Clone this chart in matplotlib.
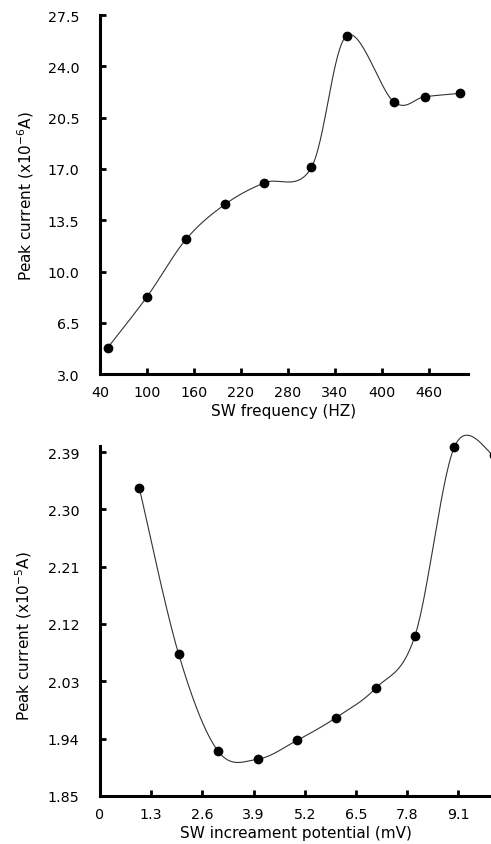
import numpy as np
import matplotlib
matplotlib.use("Agg")
import matplotlib.pyplot as plt

plt.rcParams['font.family'] = ['DejaVu Sans']
plt.rcParams['mathtext.fontset'] = 'dejavusans'

# top panel: peak current vs SW frequency
freq = [50, 100, 150, 200, 250, 310, 355, 415, 455, 500]
current_freq = [4.82, 8.28, 12.21, 14.6, 16.06, 17.1, 26.09, 21.59, 21.93, 22.16]
freq_ticks = [40, 100, 160, 220, 280, 340, 400, 460]
freq_yticks = [3.0, 6.5, 10.0, 13.5, 17.0, 20.5, 24.0, 27.5]

# bottom panel: peak current vs SW increment potential
incr = [1, 2, 3, 4, 5, 6, 7, 8, 9, 10]
current_incr = [2.333, 2.072, 1.920, 1.9075, 1.937, 1.973, 2.019, 2.1015, 2.398, 2.385]
incr_ticks = [0, 1.3, 2.6, 3.9, 5.2, 6.5, 7.8, 9.1]
incr_yticks = [1.85, 1.94, 2.03, 2.12, 2.21, 2.30, 2.39]


def smooth(x, y, n=30):
    # Excel-style smoothed line (Catmull-Rom as cubic bezier)
    x = np.asarray(x, float)
    y = np.asarray(y, float)
    px = np.concatenate([[x[0]], x, [x[-1]]])
    py = np.concatenate([[y[0]], y, [y[-1]]])
    xs, ys = [], []
    t = np.linspace(0, 1, n)
    for i in range(1, len(px) - 2):
        p0 = np.array([px[i], py[i]])
        p3 = np.array([px[i + 1], py[i + 1]])
        p1 = p0 + (np.array([px[i + 1], py[i + 1]]) - np.array([px[i - 1], py[i - 1]])) / 6
        p2 = p3 - (np.array([px[i + 2], py[i + 2]]) - np.array([px[i], py[i]])) / 6
        b = ((1 - t) ** 3)[:, None] * p0 + (3 * (1 - t) ** 2 * t)[:, None] * p1 \
            + (3 * (1 - t) * t ** 2)[:, None] * p2 + (t ** 3)[:, None] * p3
        xs.extend(b[:, 0])
        ys.extend(b[:, 1])
    return xs, ys


def style(ax):
    for s in ['top', 'right']:
        ax.spines[s].set_visible(False)
    for s in ['left', 'bottom']:
        ax.spines[s].set_linewidth(2.2)
    ax.tick_params(direction='in', length=4, width=2, labelsize=10.3)
    ax.tick_params(axis='y', pad=15)
    ax.tick_params(axis='x', pad=8)


fig = plt.figure(figsize=(4.91, 8.45), dpi=100)

ax1 = fig.add_axes([0.2037, 0.556, 0.953 - 0.2037, 0.981 - 0.556])
sx, sy = smooth(freq, current_freq)
ax1.plot(sx, sy, color='#333333', lw=0.8)
ax1.plot(freq, current_freq, 'o', color='black', ms=6)
ax1.set_xlim(40, 510)
ax1.set_ylim(3.0, 27.5)
ax1.set_xticks(freq_ticks)
ax1.set_yticks(freq_yticks)
ax1.set_yticklabels(['%.1f' % v for v in freq_yticks])
ax1.set_xlabel('SW frequency (HZ)', fontsize=11, labelpad=3)
ax1.set_ylabel('Peak current (x10$^{-6}$A)', fontsize=11, labelpad=8)
style(ax1)

ax2 = fig.add_axes([0.2037, 0.057, 1.0 - 0.2037, 0.4714 - 0.057])
sx, sy = smooth(incr, current_incr)
ax2.plot(sx, sy, color='#333333', lw=0.8, clip_on=False)
ax2.plot(incr, current_incr, 'o', color='black', ms=6, clip_on=False)
ax2.set_xlim(0, 9.93)
ax2.set_ylim(1.85, 2.40)
ax2.set_xticks(incr_ticks)
ax2.set_xticklabels(['0'] + ['%.1f' % v for v in incr_ticks[1:]])
ax2.set_yticks(incr_yticks)
ax2.set_yticklabels(['%.2f' % v for v in incr_yticks])
ax2.set_xlabel('SW increament potential (mV)', fontsize=11, labelpad=3)
ax2.set_ylabel('Peak current (x10$^{-5}$A)', fontsize=11)
ax2.yaxis.set_label_coords(-0.17, 0.46)
style(ax2)

fig.savefig('out.png', dpi=100)
